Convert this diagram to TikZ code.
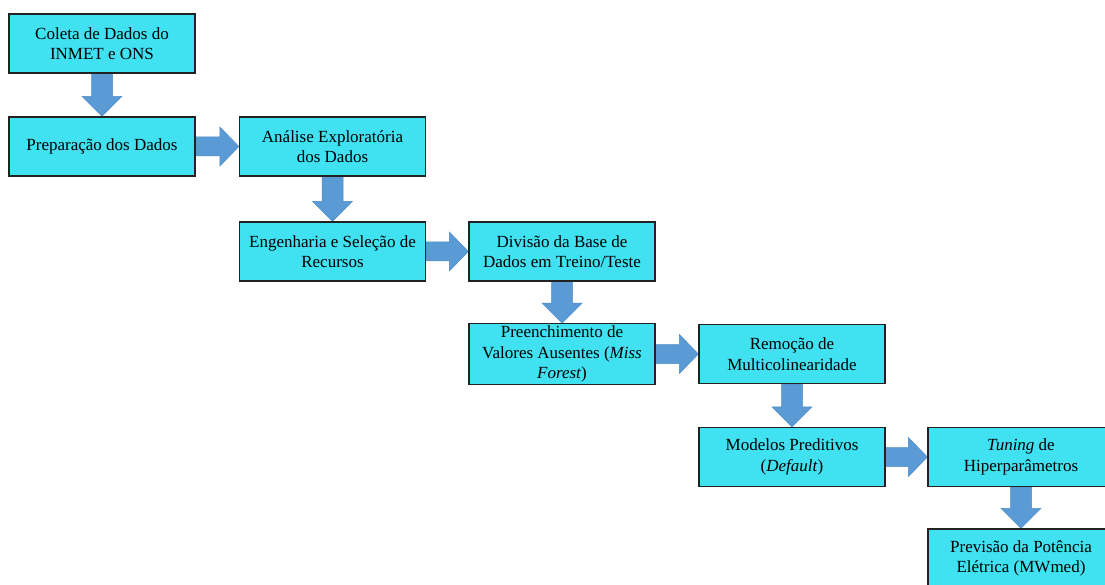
\documentclass[tikz,border=0pt]{standalone}
\usepackage{fontspec}
\setmainfont{Liberation Serif}
\usetikzlibrary{calc}
\pgfdeclarelayer{paper}
\pgfdeclarelayer{back}
\pgfsetlayers{paper,back,main}
\definecolor{boxcyan}{HTML}{40E1F1}
\definecolor{boxline}{HTML}{222222}
\definecolor{arrowblue}{HTML}{5B9BD5}
\definecolor{arrowedge}{HTML}{4E8CC6}
\tikzset{
  stagebox/.style={draw=boxline, line width=1.3pt, fill=boxcyan,
    minimum width=186pt, minimum height=59pt, inner sep=2pt,
    align=center, font=\fontsize{17}{20.5}\selectfont},
  blockarrow/.style={fill=arrowblue, draw=arrowedge, line width=0.5pt}
}
% thick block arrow pointing down from one box to the next
\newcommand\downblock[2]{%
  \begin{pgfonlayer}{back}
  \coordinate (tip) at (#1.south |- #2.north);
  \path[blockarrow] ($(#1.south)+(-10.5,0)$) -- ($(tip)+(-10.5,-20)$)
    -- ($(tip)+(-20,-20)$) -- (tip) -- ($(tip)+(20,-20)$)
    -- ($(tip)+(10.5,-20)$) -- ($(#1.south)+(10.5,0)$) -- cycle;
  \end{pgfonlayer}}
% thick block arrow pointing right from one box to the next
\newcommand\rightblock[2]{%
  \begin{pgfonlayer}{back}
  \coordinate (tip) at (#2.west |- #1.east);
  \path[blockarrow] ($(#1.east)+(0,-9.5)$) -- ($(tip)+(-19,-9.5)$)
    -- ($(tip)+(-19,-19.5)$) -- (tip) -- ($(tip)+(-19,19.5)$)
    -- ($(tip)+(-19,9.5)$) -- ($(#1.east)+(0,9.5)$) -- cycle;
  \end{pgfonlayer}}
\begin{document}
\begin{tikzpicture}[x=1pt,y=-1pt]
\useasboundingbox (0,0) rectangle (1105,585);
\clip (0,0) rectangle (1105,585);
\begin{pgfonlayer}{paper}
\fill[white] (0,0) rectangle (1105,585);
\end{pgfonlayer}

\node[stagebox] (coleta) at (102,43.5) {Coleta de Dados do\\INMET e ONS};
\node[stagebox] (prep) at (102,146.5) {Preparação dos Dados};
\node[stagebox] (analise) at (332.5,146.5) {Análise Exploratória\\dos Dados};
\node[stagebox] (eng) at (332.5,251.5) {Engenharia e Seleção de\\Recursos};
\node[stagebox] (div) at (562,251.5) {Divisão da Base de\\Dados em Treino/Teste};
\node[stagebox] (preench) at (562,354) {Preenchimento de\\Valores Ausentes (\textit{Miss}\\\textit{Forest})};
\node[stagebox] (remo) at (792,354) {Remoção de\\Multicolinearidade};
\node[stagebox] (modelos) at (792,457) {Modelos Preditivos\\(\textit{Default})};
\node[stagebox] (tuning) at (1021,457) {\textit{Tuning} de\\Hiperparâmetros};
\node[stagebox] (prev) at (1021,558.5) {Previsão da Potência\\Elétrica (MWmed)};

\downblock{coleta}{prep}
\rightblock{prep}{analise}
\downblock{analise}{eng}
\rightblock{eng}{div}
\downblock{div}{preench}
\rightblock{preench}{remo}
\downblock{remo}{modelos}
\rightblock{modelos}{tuning}
\downblock{tuning}{prev}
\end{tikzpicture}
\end{document}
